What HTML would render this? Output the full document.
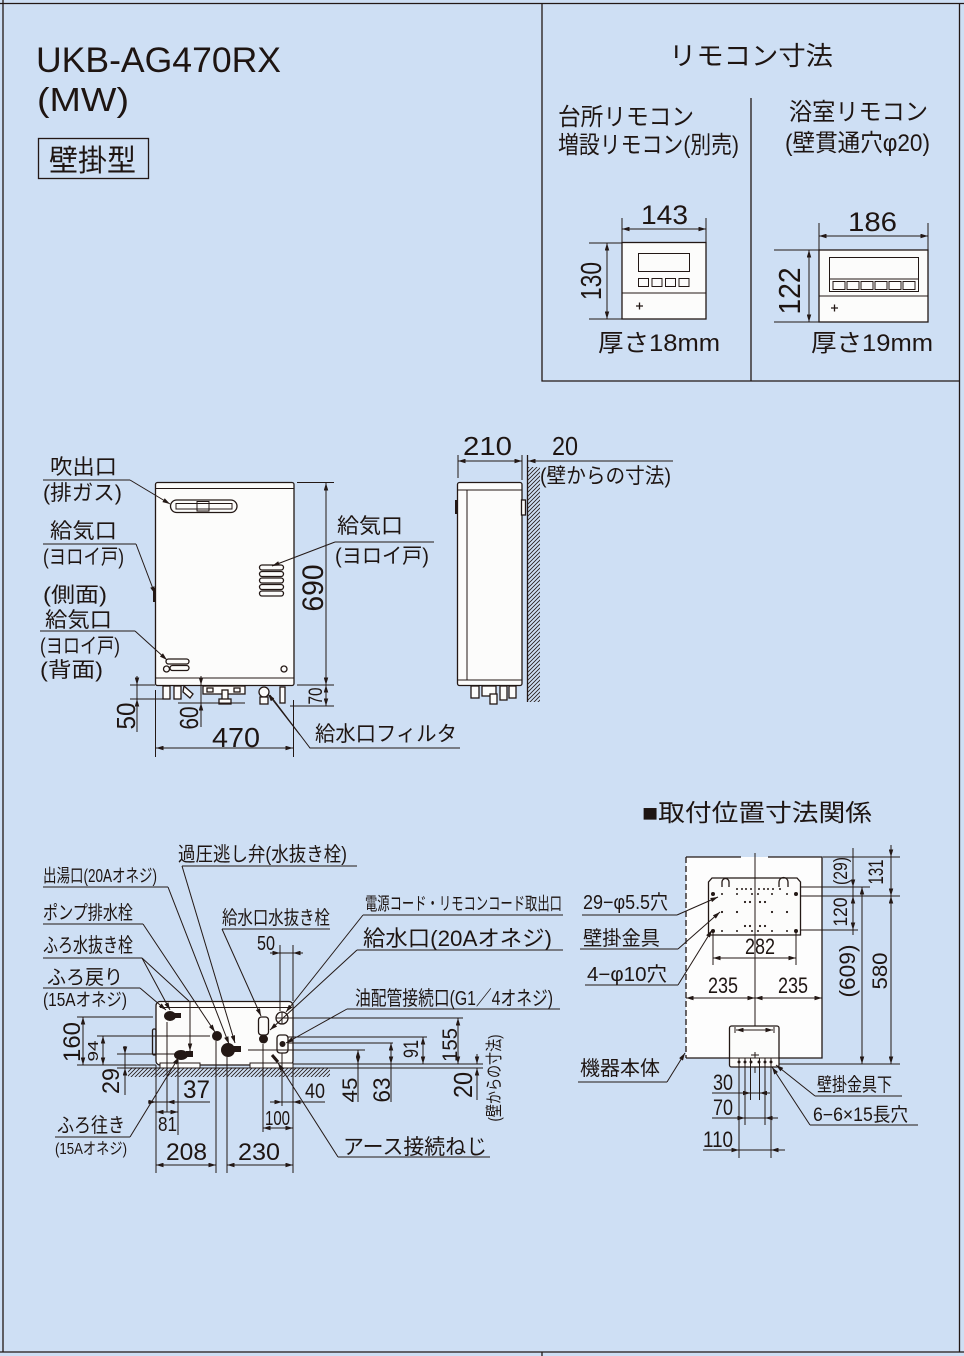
<!DOCTYPE html>
<html><head><meta charset="utf-8"><style>
html,body{margin:0;padding:0;background:#cedff4}
svg{display:block}
text{font-family:"Liberation Sans","Noto Sans CJK JP",sans-serif;fill:#1e1512}
.l{stroke:#231815;stroke-width:1.3;fill:none}
.t{stroke:#231815;stroke-width:1;fill:none}
.d{stroke:#231815;stroke-width:1;fill:none;marker-start:url(#a);marker-end:url(#a)}
.e{stroke:#231815;stroke-width:1;fill:none;marker-end:url(#a)}
.w{fill:#fcfcfb}
.k{fill:#231815}
</style></head><body>
<svg width="964" height="1356" viewBox="0 0 964 1356" xmlns="http://www.w3.org/2000/svg">
<defs>
<marker id="a" viewBox="0 0 10 6" refX="10" refY="3" markerWidth="8" markerHeight="4.5" orient="auto-start-reverse" markerUnits="userSpaceOnUse"><path d="M0,0L10,3L0,6z" fill="#231815"/></marker>
<pattern id="h" patternUnits="userSpaceOnUse" width="4" height="4"><path d="M-1,1L1,-1M0,4L4,0M3,5L5,3" stroke="#231815" stroke-width="0.8"/></pattern>
</defs>
<rect width="964" height="1356" fill="#cedff4"/>
<!-- frame -->
<path class="l" stroke-width="1.6" d="M0,3.5H964M3,0V1352M959.5,3V1352M0,1352H964M542,1352V1356"/>
<path class="l" stroke-width="1.5" d="M542,3V381H959M751,98V381"/>

<!-- title -->
<text x="36" y="72" font-size="35" textLength="245" lengthAdjust="spacingAndGlyphs">UKB-AG470RX</text>
<text x="37" y="111" font-size="33" textLength="92" lengthAdjust="spacingAndGlyphs">(MW)</text>
<rect x="38.5" y="138.5" width="110" height="40" class="l" stroke-width="1.5"/>
<text x="49" y="171" font-size="30" textLength="87" lengthAdjust="spacingAndGlyphs">壁掛型</text>

<!-- remote panel -->
<text x="669" y="65" font-size="26" textLength="164" lengthAdjust="spacingAndGlyphs">リモコン寸法</text>
<text x="558" y="125" font-size="24" textLength="136" lengthAdjust="spacingAndGlyphs">台所リモコン</text>
<text x="558" y="153" font-size="24" textLength="181" lengthAdjust="spacingAndGlyphs">増設リモコン(別売)</text>
<text x="789" y="120" font-size="24" textLength="139" lengthAdjust="spacingAndGlyphs">浴室リモコン</text>
<text x="785" y="151" font-size="24" textLength="145" lengthAdjust="spacingAndGlyphs">(壁貫通穴φ20)</text>

<!-- kitchen remote -->
<rect x="622" y="242.5" width="84" height="76.5" class="w l" stroke-width="1.4"/>
<line x1="622" y1="293" x2="706" y2="293" class="t"/>
<rect x="638.5" y="253.5" width="51" height="18" class="t" stroke-width="1.1"/>
<g class="t" stroke-width="1.1"><rect x="638.5" y="278.5" width="10" height="8"/><rect x="652" y="278.5" width="10" height="8"/><rect x="665.5" y="278.5" width="10" height="8"/><rect x="679" y="278.5" width="10" height="8"/></g>
<path class="l" stroke-width="1.5" d="M636,306h7M639.5,302.5v7"/>
<path class="t" d="M622,218V242M706,218V242M589,243H622M589,319H622"/>
<line class="d" x1="622" y1="229" x2="706" y2="229"/>
<line class="d" x1="607" y1="243" x2="607" y2="319"/>
<text x="641" y="224" font-size="27" textLength="47" lengthAdjust="spacingAndGlyphs">143</text>
<text transform="translate(601,281) rotate(-90)" text-anchor="middle" font-size="29" textLength="38" lengthAdjust="spacingAndGlyphs">130</text>
<text x="598" y="351" font-size="24" textLength="122" lengthAdjust="spacingAndGlyphs">厚さ18mm</text>

<!-- bath remote -->
<rect x="819" y="250" width="109" height="72" class="w l" stroke-width="1.4"/>
<line x1="819" y1="296" x2="928" y2="296" class="t"/>
<rect x="829.5" y="257.5" width="89" height="34" class="t" stroke-width="1.1"/>
<line x1="829.5" y1="279" x2="918.5" y2="279" class="t"/>
<g class="t" stroke-width="1.1"><rect x="833" y="281.5" width="12" height="8"/><rect x="847" y="281.5" width="12" height="8"/><rect x="861" y="281.5" width="12" height="8"/><rect x="875" y="281.5" width="12" height="8"/><rect x="889" y="281.5" width="12" height="8"/><rect x="903" y="281.5" width="12" height="8"/></g>
<path class="l" stroke-width="1.5" d="M831,308h7M834.5,304.5v7"/>
<path class="t" d="M819,223V250M928,223V250M774,250H819M774,322H819"/>
<line class="d" x1="819" y1="236" x2="928" y2="236"/>
<line class="d" x1="809" y1="250" x2="809" y2="322"/>
<text x="848" y="231" font-size="27" textLength="49" lengthAdjust="spacingAndGlyphs">186</text>
<text transform="translate(800,291) rotate(-90)" text-anchor="middle" font-size="31" textLength="47" lengthAdjust="spacingAndGlyphs">122</text>
<text x="811" y="351" font-size="24" textLength="122" lengthAdjust="spacingAndGlyphs">厚さ19mm</text>

<!-- front view -->
<rect x="155.5" y="482.5" width="138.5" height="203" rx="2" class="w l" stroke-width="1.4"/>
<line x1="156" y1="488.5" x2="294" y2="488.5" class="t"/>
<line x1="156" y1="678" x2="294" y2="678" class="t"/>
<rect x="170.5" y="500" width="66.5" height="12.5" rx="6.2" class="l" stroke-width="2"/>
<rect x="176" y="503.5" width="56" height="5.5" class="t" stroke-width="1.2"/>
<rect x="197" y="501.5" width="12" height="9.5" fill="#fff" class="t"/>
<g class="l" stroke-width="1.4"><rect x="259.5" y="565" width="24" height="5" rx="2.5"/><rect x="259.5" y="571.5" width="24" height="5" rx="2.5"/><rect x="259.5" y="578" width="24" height="5" rx="2.5"/><rect x="259.5" y="584.5" width="24" height="5" rx="2.5"/><rect x="259.5" y="591" width="24" height="5" rx="2.5"/></g>
<g class="l" stroke-width="1.4"><rect x="166" y="659" width="23" height="5" rx="2.5"/><rect x="170" y="665.5" width="19" height="5" rx="2.5"/></g>
<circle cx="166.5" cy="669" r="3" class="l" stroke-width="1.6"/>
<circle cx="284" cy="669" r="3" class="l" stroke-width="1.4"/>
<path d="M153,588h3v14h-3z" class="k"/>
<!-- bottom fittings -->
<g class="l" stroke-width="1.2">
<rect x="163" y="686" width="7" height="13" fill="#fcfcfb"/><rect x="174" y="686" width="7" height="13" fill="#fcfcfb"/><path d="M184,686l9,8l-3,4l-7,-6z" fill="#fcfcfb"/>
<rect x="203" y="686" width="42" height="8" fill="#fcfcfb"/><rect x="207" y="688" width="6" height="4"/><rect x="234" y="688" width="6" height="4"/>
<rect x="222" y="690" width="6" height="10" fill="#fcfcfb"/><rect x="219" y="699" width="12" height="5" fill="#fcfcfb"/>
<circle cx="264" cy="692" r="5" fill="#fcfcfb"/><rect x="260" y="697" width="8" height="7" fill="#fcfcfb"/>
<rect x="280" y="687" width="5" height="16" fill="#fcfcfb"/>
</g>
<!-- front dims -->
<path class="t" d="M297,482.5H334M297,685H334M290,706H334M155.5,690V757M293.5,700V757M130,685H155M130,699H167M178,703H245"/>
<line class="d" x1="326" y1="483" x2="326" y2="685"/>
<line class="d" x1="326" y1="685" x2="326" y2="706"/>
<line class="d" x1="156" y1="748" x2="293" y2="748"/>
<path class="e" d="M137,676V685"/><path class="e" d="M137,732V699"/><line class="t" x1="137" y1="685" x2="137" y2="699"/>
<path class="e" d="M201,676V685"/><path class="e" d="M201,727V703"/><line class="t" x1="201" y1="685" x2="201" y2="703"/>
<text transform="translate(323,588) rotate(-90)" text-anchor="middle" font-size="30" textLength="47" lengthAdjust="spacingAndGlyphs">690</text>
<text transform="translate(322,696) rotate(-90)" text-anchor="middle" font-size="19" textLength="17" lengthAdjust="spacingAndGlyphs">70</text>
<text transform="translate(135,716) rotate(-90)" text-anchor="middle" font-size="26" textLength="27" lengthAdjust="spacingAndGlyphs">50</text>
<text transform="translate(198,718) rotate(-90)" text-anchor="middle" font-size="26" textLength="23" lengthAdjust="spacingAndGlyphs">60</text>
<text x="212" y="747" font-size="28" textLength="48" lengthAdjust="spacingAndGlyphs">470</text>
<!-- front labels -->
<text x="50" y="474" font-size="21" textLength="67" lengthAdjust="spacingAndGlyphs">吹出口</text>
<text x="43" y="500" font-size="21" textLength="79" lengthAdjust="spacingAndGlyphs">(排ガス)</text>
<path class="t" d="M43,480H130"/><path class="e" d="M130,480L170,504"/>
<text x="50" y="538" font-size="21" textLength="67" lengthAdjust="spacingAndGlyphs">給気口</text>
<text x="43" y="564" font-size="21" textLength="81" lengthAdjust="spacingAndGlyphs">(ヨロイ戸)</text>
<path class="t" d="M43,544H136"/><path class="e" d="M136,544L155,594"/>
<text x="43" y="602" font-size="21" textLength="64" lengthAdjust="spacingAndGlyphs">(側面)</text>
<text x="45" y="627" font-size="21" textLength="67" lengthAdjust="spacingAndGlyphs">給気口</text>
<path class="t" d="M40,631H135"/><path class="e" d="M135,631L167,660"/>
<text x="40" y="653" font-size="21" textLength="80" lengthAdjust="spacingAndGlyphs">(ヨロイ戸)</text>
<text x="40" y="677" font-size="21" textLength="63" lengthAdjust="spacingAndGlyphs">(背面)</text>
<text x="337" y="533" font-size="21" textLength="66" lengthAdjust="spacingAndGlyphs">給気口</text>
<text x="335" y="563" font-size="21" textLength="94" lengthAdjust="spacingAndGlyphs">(ヨロイ戸)</text>
<path class="t" d="M434,542H335"/><path class="e" d="M335,542L272,566"/>
<text x="315" y="741" font-size="21" textLength="142" lengthAdjust="spacingAndGlyphs">給水口フィルタ</text>
<path class="t" d="M460,748H310L270,695"/>
<path class="e" d="M300,735L268,694"/>

<!-- side view -->
<rect x="457.5" y="482.5" width="64.5" height="203" rx="2" class="w l" stroke-width="1.4"/>
<line x1="458" y1="490" x2="522" y2="490" class="t"/>
<line x1="467" y1="490" x2="467" y2="680" class="t"/>
<line x1="458" y1="680" x2="522" y2="680" class="t"/>
<rect x="455" y="500" width="3" height="14" class="k"/>
<rect x="521.5" y="500" width="4" height="15" class="w l" stroke-width="1"/>
<g class="l" stroke-width="1.2">
<rect x="471" y="686" width="8" height="12" fill="#fcfcfb"/><rect x="482" y="686" width="14" height="10" fill="#fcfcfb"/><rect x="490" y="694" width="7" height="10" fill="#fcfcfb"/><rect x="500" y="686" width="7" height="14" fill="#fcfcfb"/><rect x="509" y="686" width="7" height="12" fill="#fcfcfb"/>
</g>
<rect x="528" y="467" width="12" height="235" fill="url(#h)"/>
<line x1="527.5" y1="455" x2="527.5" y2="702" class="l" stroke-width="1.8"/>
<path class="t" d="M458,455V478M522,455V480"/>
<line class="d" x1="458" y1="461" x2="522" y2="461"/>
<line class="t" x1="527" y1="461" x2="673" y2="461"/>
<path class="e" d="M536,461H528"/>
<text x="463" y="455" font-size="26" textLength="49" lengthAdjust="spacingAndGlyphs">210</text>
<text x="552" y="455" font-size="26" textLength="26" lengthAdjust="spacingAndGlyphs">20</text>
<text x="540" y="483" font-size="21" textLength="131" lengthAdjust="spacingAndGlyphs">(壁からの寸法)</text>

<!-- bottom view -->
<rect x="128" y="1068" width="202" height="9" fill="url(#h)"/>
<rect x="156" y="1001.5" width="137" height="63.5" rx="4" class="w l" stroke-width="1.4"/>
<line x1="160" y1="1007.5" x2="289" y2="1007.5" class="t"/>
<rect x="152.5" y="1029" width="3.5" height="26" rx="1.5" class="l" stroke-width="1"/>
<rect x="160" y="1063" width="40" height="5" class="w t"/>
<rect x="250" y="1063" width="43" height="5" class="w t"/>
<!-- components -->
<ellipse cx="170" cy="1016" rx="6" ry="5" class="k"/><rect x="174" y="1013" width="7" height="5" class="k"/>
<ellipse cx="181" cy="1055" rx="7" ry="5" class="k"/><rect x="186" y="1051" width="7" height="6" class="k"/>
<circle cx="217" cy="1036" r="5" class="k"/>
<circle cx="228" cy="1050" r="7" class="k"/><rect x="233" y="1046" width="8" height="6" class="k"/>
<rect x="258.5" y="1017" width="10" height="18" rx="3" class="w l" stroke-width="1.6"/>
<circle cx="263.5" cy="1039" r="4.5" class="k"/>
<circle cx="282" cy="1018" r="6" class="w l"/><path class="t" d="M276,1018h12M282,1012v12"/>
<rect x="277" y="1035" width="11" height="18" rx="3" class="w l" stroke-width="1.3"/>
<circle cx="282.5" cy="1044" r="3" class="k"/>
<line x1="272" y1="1055" x2="278" y2="1062" stroke="#231815" stroke-width="3"/>
<!-- bottom ext lines -->
<path class="t" d="M77,1017H153M77,1065H156M97,1036H210M117,1054H175M288,1018H463M288,1037H427M288,1043H393M248,1050H365M293,1064H483M117,1068H483
M167,1022V1112M178,1060V1135M216,1041V1173M227,1057V1173M156,1065V1173M293,1065V1173M263,1044V1132M282,1053V1106M280,945V1011M293,945V1001"/>
<line class="d" x1="83" y1="1017" x2="83" y2="1065"/>
<line class="d" x1="103" y1="1036" x2="103" y2="1065"/>
<path class="e" d="M125,1046V1054"/><path class="e" d="M125,1095V1068"/><line class="t" x1="125" y1="1054" x2="125" y2="1068"/>
<line class="t" x1="148" y1="1102" x2="210" y2="1102"/>
<path class="e" d="M148,1102H156"/><path class="e" d="M175,1102H167"/>
<line class="d" x1="156" y1="1112" x2="178" y2="1112"/>
<line class="d" x1="156" y1="1165" x2="216" y2="1165"/>
<line class="d" x1="227" y1="1165" x2="293" y2="1165"/>
<line class="t" x1="270" y1="1102" x2="325" y2="1102"/>
<path class="e" d="M272,1102H282"/><path class="e" d="M303,1102H293"/>
<line class="d" x1="263" y1="1128" x2="293" y2="1128"/>
<line class="t" x1="279" y1="953" x2="303" y2="953"/>
<path class="e" d="M270,953H280"/><path class="e" d="M303,953H293"/>
<line class="d" x1="458" y1="1018" x2="458" y2="1064"/>
<line class="d" x1="423" y1="1037" x2="423" y2="1064"/>
<line class="d" x1="391" y1="1043" x2="391" y2="1064"/><line class="t" x1="391" y1="1064" x2="391" y2="1102"/>
<line class="d" x1="358" y1="1050" x2="358" y2="1064"/><line class="t" x1="358" y1="1064" x2="358" y2="1102"/>
<path class="e" d="M477,1054V1064"/><path class="e" d="M477,1100V1068"/>
<!-- bottom dim text -->
<text x="257" y="950" font-size="20" textLength="18" lengthAdjust="spacingAndGlyphs">50</text>
<text transform="translate(80,1042) rotate(-90)" text-anchor="middle" font-size="24" textLength="40" lengthAdjust="spacingAndGlyphs">160</text>
<text transform="translate(98,1051) rotate(-90)" text-anchor="middle" font-size="15" textLength="21" lengthAdjust="spacingAndGlyphs">94</text>
<text transform="translate(119,1081) rotate(-90)" text-anchor="middle" font-size="24" textLength="26" lengthAdjust="spacingAndGlyphs">29</text>
<text x="183" y="1098" font-size="25" textLength="27" lengthAdjust="spacingAndGlyphs">37</text>
<text x="158" y="1131" font-size="20" textLength="19" lengthAdjust="spacingAndGlyphs">81</text>
<text x="166" y="1160" font-size="24" textLength="41" lengthAdjust="spacingAndGlyphs">208</text>
<text x="238" y="1160" font-size="24" textLength="42" lengthAdjust="spacingAndGlyphs">230</text>
<text x="305" y="1098" font-size="21" textLength="20" lengthAdjust="spacingAndGlyphs">40</text>
<text x="265" y="1125" font-size="20" textLength="25" lengthAdjust="spacingAndGlyphs">100</text>
<text transform="translate(457,1045) rotate(-90)" text-anchor="middle" font-size="21" textLength="34" lengthAdjust="spacingAndGlyphs">155</text>
<text transform="translate(418,1049) rotate(-90)" text-anchor="middle" font-size="21" textLength="18" lengthAdjust="spacingAndGlyphs">91</text>
<text transform="translate(390,1090) rotate(-90)" text-anchor="middle" font-size="24" textLength="25" lengthAdjust="spacingAndGlyphs">63</text>
<text transform="translate(357,1090) rotate(-90)" text-anchor="middle" font-size="21" textLength="25" lengthAdjust="spacingAndGlyphs">45</text>
<text transform="translate(472,1085) rotate(-90)" text-anchor="middle" font-size="26" textLength="26" lengthAdjust="spacingAndGlyphs">20</text>
<text transform="translate(500,1078) rotate(-90)" text-anchor="middle" font-size="17" textLength="87" lengthAdjust="spacingAndGlyphs">(壁からの寸法)</text>
<!-- bottom labels -->
<text x="178" y="861" font-size="20" textLength="169" lengthAdjust="spacingAndGlyphs">過圧逃し弁(水抜き栓)</text>
<path class="t" d="M182,866H357"/><path class="e" d="M182,866L235,1043"/>
<text x="43" y="882" font-size="18" textLength="114" lengthAdjust="spacingAndGlyphs">出湯口(20Aオネジ)</text>
<path class="t" d="M43,887H168"/><path class="e" d="M168,887L229,1044"/>
<text x="43" y="919" font-size="19" textLength="90" lengthAdjust="spacingAndGlyphs">ポンプ排水栓</text>
<path class="t" d="M43,924H143"/><path class="e" d="M143,924L215,1032"/>
<text x="43" y="952" font-size="20" textLength="90" lengthAdjust="spacingAndGlyphs">ふろ水抜き栓</text>
<path class="t" d="M43,958H142"/><path class="e" d="M142,958L170,1010"/><path class="t" d="M142,958L190,1002"/><path class="e" d="M190,1002V1051"/>
<text x="47" y="984" font-size="20" textLength="76" lengthAdjust="spacingAndGlyphs">ふろ戻り</text>
<path class="t" d="M43,988H140"/><path class="e" d="M140,988L166,1010"/>
<text x="43" y="1006" font-size="18" textLength="84" lengthAdjust="spacingAndGlyphs">(15Aオネジ)</text>
<text x="57" y="1132" font-size="20" textLength="68" lengthAdjust="spacingAndGlyphs">ふろ往き</text>
<path class="t" d="M55,1137H130"/><path class="e" d="M130,1137L179,1057"/>
<text x="55" y="1154" font-size="16" textLength="72" lengthAdjust="spacingAndGlyphs">(15Aオネジ)</text>
<text x="222" y="924" font-size="19" textLength="108" lengthAdjust="spacingAndGlyphs">給水口水抜き栓</text>
<path class="t" d="M222,929H330"/><path class="e" d="M222,929L261,1016"/>
<text x="365" y="910" font-size="18" textLength="197" lengthAdjust="spacingAndGlyphs">電源コード・リモコンコード取出口</text>
<path class="t" d="M363,915H563"/><path class="e" d="M363,915L286,1012"/>
<text x="363" y="946" font-size="22" textLength="189" lengthAdjust="spacingAndGlyphs">給水口(20Aオネジ)</text>
<path class="t" d="M357,950H563"/><path class="e" d="M357,950L270,1030"/>
<text x="355" y="1005" font-size="20" textLength="198" lengthAdjust="spacingAndGlyphs">油配管接続口(G1／4オネジ)</text>
<path class="t" d="M347,1009H560"/><path class="e" d="M347,1009L286,1043"/>
<text x="343" y="1154" font-size="21" textLength="144" lengthAdjust="spacingAndGlyphs">アース接続ねじ</text>
<path class="t" d="M490,1157H338"/><path class="e" d="M338,1157L278,1063"/>

<!-- installation -->
<text x="642" y="821" font-size="24" textLength="230" lengthAdjust="spacingAndGlyphs">■取付位置寸法関係</text>
<rect x="686" y="857" width="136" height="201" fill="#fdfdfd"/>
<path class="l" d="M686,857H741M768,857H822V1058H779M729,1058H686"/>
<line x1="686" y1="857" x2="686" y2="1058" class="l" stroke-width="1.5" stroke-dasharray="6,3"/>
<path class="w l" d="M708.5,935V882L712,878H797L800.5,882V935Z"/>
<path class="l" d="M722,887V882a3.5,3.5 0 0 1 7,0V887M779,887V882a4.5,4.5 0 0 1 9,0V887"/>
<g class="k">
<circle cx="713" cy="894" r="2"/><circle cx="796" cy="894" r="2"/><circle cx="713" cy="931" r="2"/><circle cx="796" cy="931" r="2"/>
<circle cx="737" cy="889" r="1"/><circle cx="742" cy="889" r="1"/><circle cx="746" cy="889" r="1"/><circle cx="751" cy="889" r="1"/><circle cx="759" cy="889" r="1"/><circle cx="764" cy="889" r="1"/><circle cx="768" cy="889" r="1"/><circle cx="773" cy="889" r="1"/><circle cx="780" cy="889" r="1"/>
<circle cx="722" cy="894" r="1"/><circle cx="737" cy="894" r="1"/><circle cx="752" cy="894" r="1"/><circle cx="758" cy="894" r="1"/><circle cx="772" cy="894" r="1"/><circle cx="787" cy="894" r="1"/>
<circle cx="745" cy="902" r="1.1"/><circle cx="750" cy="902" r="1.1"/><circle cx="760" cy="902" r="1.1"/><circle cx="765" cy="902" r="1.1"/>
<circle cx="722" cy="912" r="1.1"/><circle cx="737" cy="912" r="1.1"/><circle cx="772" cy="912" r="1.1"/><circle cx="787" cy="912" r="1.1"/>
<circle cx="745" cy="926" r="1.1"/><circle cx="750" cy="926" r="1.1"/><circle cx="760" cy="926" r="1.1"/><circle cx="765" cy="926" r="1.1"/>
<circle cx="722" cy="931" r="1"/><circle cx="737" cy="931" r="1"/><circle cx="752" cy="931" r="1"/><circle cx="758" cy="931" r="1"/><circle cx="772" cy="931" r="1"/><circle cx="787" cy="931" r="1"/>
</g>
<line x1="755" y1="853" x2="755" y2="1073" class="t"/>
<path class="t" d="M713,930V965M796,930V965"/>
<line class="d" x1="713" y1="958" x2="796" y2="958"/>
<line class="d" x1="686" y1="998" x2="755" y2="998"/>
<line class="d" x1="755" y1="998" x2="822" y2="998"/>
<text x="745" y="954" font-size="22" textLength="30" lengthAdjust="spacingAndGlyphs">282</text>
<text x="708" y="993" font-size="22" textLength="30" lengthAdjust="spacingAndGlyphs">235</text>
<text x="778" y="993" font-size="22" textLength="30" lengthAdjust="spacingAndGlyphs">235</text>
<!-- lower bracket -->
<rect x="729.5" y="1026" width="49.5" height="41" rx="2" class="w l"/>
<line x1="730" y1="1058" x2="779" y2="1058" class="t"/>
<line class="d" x1="736" y1="1030" x2="773" y2="1030"/>
<path class="t" d="M735,1027v6M774,1027v6M751,1055h8M755,1052v6"/>
<g class="k"><circle cx="739" cy="1062" r="1.5"/><circle cx="745" cy="1062" r="1.5"/><circle cx="751" cy="1062" r="1.5"/><circle cx="759" cy="1062" r="1.5"/><circle cx="765" cy="1062" r="1.5"/><circle cx="771" cy="1062" r="1.5"/></g>
<path class="t" d="M739,1058V1158M771,1058V1158M745,1058V1125M765,1058V1125M750.5,1058V1100M759.5,1058V1100"/>
<line class="t" x1="712" y1="1093" x2="770" y2="1093"/><path class="e" d="M735,1093H750.5"/><path class="e" d="M770,1093H759.5"/>
<line class="t" x1="712" y1="1118" x2="775" y2="1118"/><path class="e" d="M730,1118H745"/><path class="e" d="M778,1118H765"/>
<line class="t" x1="703" y1="1150" x2="782" y2="1150"/><path class="e" d="M725,1150H739"/><path class="e" d="M785,1150H771"/>
<text x="713" y="1090" font-size="22" textLength="20" lengthAdjust="spacingAndGlyphs">30</text>
<text x="713" y="1115" font-size="22" textLength="20" lengthAdjust="spacingAndGlyphs">70</text>
<text x="703" y="1147" font-size="22" textLength="30" lengthAdjust="spacingAndGlyphs">110</text>
<!-- right dims -->
<path class="t" d="M823,857H900M801,887H870M801,896H900M801,930H858M779,1064H900"/>
<line class="t" x1="853" y1="848" x2="853" y2="935"/>
<path class="e" d="M853,875V887"/><path class="e" d="M853,908V896"/><path class="e" d="M853,918V930"/>
<line class="d" x1="862" y1="887" x2="862" y2="1064"/>
<line class="t" x1="891" y1="845" x2="891" y2="1064"/>
<path class="e" d="M891,845V857"/><path class="e" d="M891,920V896"/><path class="e" d="M891,1040V1064"/><path class="e" d="M891,875V896"/>
<text transform="translate(847,871) rotate(-90)" text-anchor="middle" font-size="19" textLength="28" lengthAdjust="spacingAndGlyphs">(29)</text>
<text transform="translate(847,912) rotate(-90)" text-anchor="middle" font-size="19" textLength="29" lengthAdjust="spacingAndGlyphs">120</text>
<text transform="translate(883,872) rotate(-90)" text-anchor="middle" font-size="21" textLength="25" lengthAdjust="spacingAndGlyphs">131</text>
<text transform="translate(855,971) rotate(-90)" text-anchor="middle" font-size="22" textLength="53" lengthAdjust="spacingAndGlyphs">(609)</text>
<text transform="translate(887,971) rotate(-90)" text-anchor="middle" font-size="21" textLength="37" lengthAdjust="spacingAndGlyphs">580</text>
<!-- install labels -->
<text x="583" y="909" font-size="20" textLength="85" lengthAdjust="spacingAndGlyphs">29−φ5.5穴</text>
<path class="t" d="M582,915H677"/><path class="e" d="M677,915L718,897"/>
<text x="583" y="945" font-size="20" textLength="77" lengthAdjust="spacingAndGlyphs">壁掛金具</text>
<path class="t" d="M580,949H678"/><path class="e" d="M678,949L720,912"/>
<text x="587" y="981" font-size="20" textLength="80" lengthAdjust="spacingAndGlyphs">4−φ10穴</text>
<path class="t" d="M585,985H678"/><path class="e" d="M678,985L712,930"/>
<text x="580" y="1075" font-size="20" textLength="80" lengthAdjust="spacingAndGlyphs">機器本体</text>
<path class="t" d="M578,1082H667"/><path class="e" d="M667,1082L685,1053"/>
<text x="817" y="1091" font-size="19" textLength="75" lengthAdjust="spacingAndGlyphs">壁掛金具下</text>
<path class="t" d="M902,1096H815"/><path class="e" d="M815,1096L776,1065"/>
<text x="813" y="1121" font-size="19" textLength="95" lengthAdjust="spacingAndGlyphs">6−6×15長穴</text>
<path class="t" d="M918,1125H810"/><path class="e" d="M810,1125L772,1067"/>
</svg>
</body></html>
